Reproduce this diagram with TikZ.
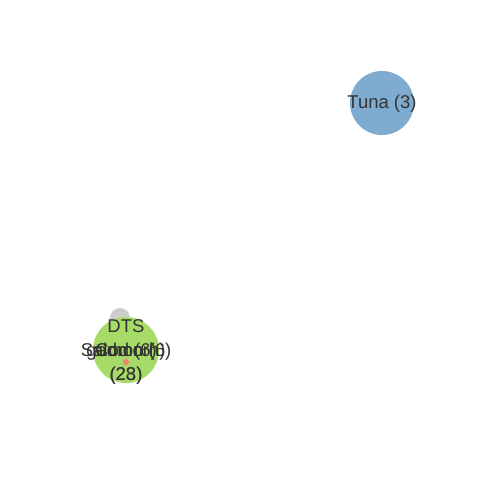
\documentclass[tikz,border=0pt]{standalone}
\usepackage{fontspec}
\setmainfont{Liberation Sans}
\usepackage{tikz}
\definecolor{tunablue}{HTML}{7FABD0}
\definecolor{salmongreen}{HTML}{A6DB68}
\definecolor{dtsgray}{HTML}{CDCDCD}
\definecolor{codred}{HTML}{EE8370}
\definecolor{labelgray}{HTML}{333333}

\begin{document}
\begin{tikzpicture}[x=1pt,y=-1pt,
                    every node/.style={inner sep=0pt,outer sep=0pt}]
  \tikzstyle{fish}=[circle,draw=none]
  \tikzstyle{fishlabel}=[text=labelgray,font=\fontsize{18.5}{24}\selectfont,align=center]

  \useasboundingbox (0,0) rectangle (480,480);

  % species nodes
  \node[fish,fill=dtsgray,minimum size=20pt]      (DTS)    at (120,318) {};
  \node[fish,fill=salmongreen,minimum size=66pt]  (Salmon) at (126,350) {};
  \node[fish,fill=codred,minimum size=6pt]        (Cod)    at (126,362) {};
  \node[fish,fill=tunablue,minimum size=64pt]     (Tuna)   at (382,103) {};

  % labels
  \node[fishlabel] (SalmonL) at (126,352) {DTS\\Salmon (6)\\(28)};
  \node[fishlabel] (CodL)    at (126,364) {Cod (6)\\(23)};
  \node[fishlabel] (gadL)    at (126,352) {gadmorh)};
  \node[fishlabel] (TunaL)   at (382,104) {Tuna (3)};
\end{tikzpicture}
\end{document}
